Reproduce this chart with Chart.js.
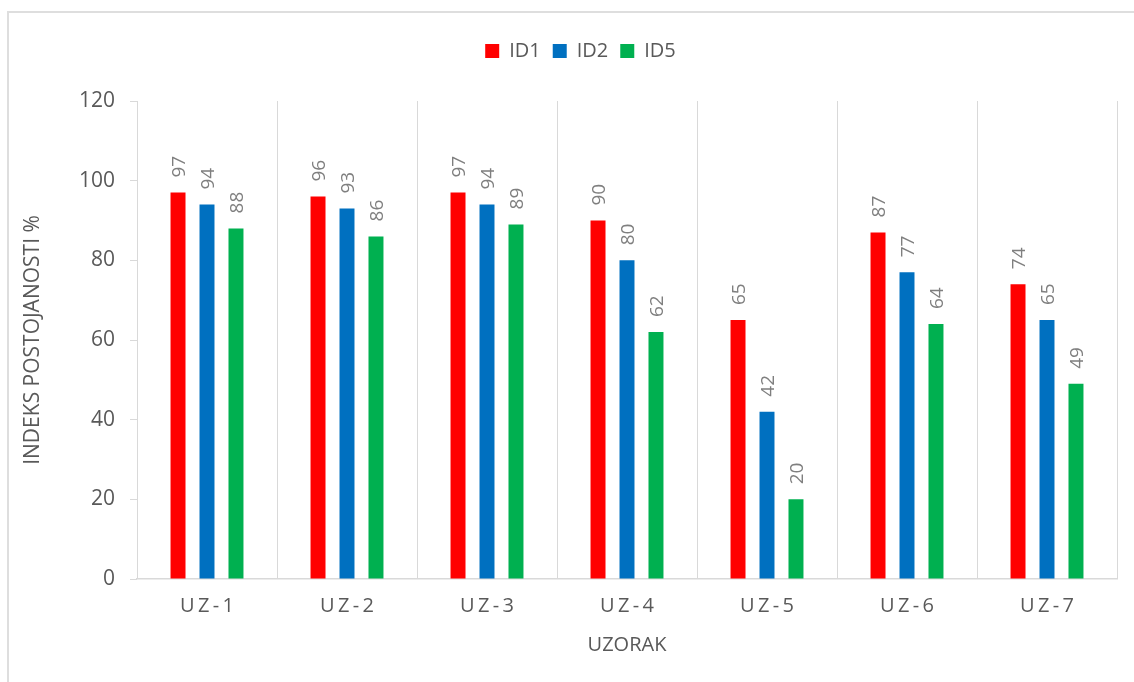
<!DOCTYPE html>
<html>
<head>
<meta charset="utf-8">
<script src="https://cdn.jsdelivr.net/npm/chart.js@4/dist/chart.umd.min.js"></script>
<style>
  html, body { margin: 0; padding: 0; background: #fff; overflow: hidden; }
  #frame {
    position: absolute; left: 7px; top: 11px;
    width: 1140px; height: 700px;
    border: 2px solid #dedede; box-sizing: border-box;
  }
  #wrap { position: absolute; left: 0; top: 0; width: 1134px; height: 682px; }
</style>
</head>
<body>
<div id="frame"></div>
<div id="wrap"><canvas id="chart" width="1134" height="682"></canvas></div>
<script>
// Data
const categories = ["UZ-1", "UZ-2", "UZ-3", "UZ-4", "UZ-5", "UZ-6", "UZ-7"];
const seriesNames = ["ID1", "ID2", "ID5"];
const id1Values = [97, 96, 97, 90, 65, 87, 74];
const id2Values = [94, 93, 94, 80, 42, 77, 65];
const id5Values = [88, 86, 89, 62, 20, 64, 49];
const yTicks = [0, 20, 40, 60, 80, 100, 120];

const colors = ["#FF0000", "#0070C0", "#00B050"];
const fontFamily = "'Open Sans', 'Noto Sans', sans-serif";
const textGray = "#595959";
const gridGray = "#d9d9d9";

// Fix the legend box height so the plot area starts where the reference does,
// and nudge it right to sit where the reference legend sits
const legendPlacement = {
  id: "legendPlacement",
  afterInit(chart) {
    const legend = chart.legend;
    if (!legend) return;
    const origFit = legend.fit.bind(legend);
    legend.fit = function () {
      origFit();
      this.height = 101 - 29;
    };
  },
  afterLayout(chart) {
    const legend = chart.legend;
    if (!legend) return;
    legend.left += 22;
    legend.right += 22;
  }
};

// Rotated value labels above each bar
const valueLabels = {
  id: "valueLabels",
  afterDatasetsDraw(chart) {
    const ctx = chart.ctx;
    ctx.save();
    ctx.font = "19px " + fontFamily;
    ctx.fillStyle = "#7f7f7f";
    ctx.textAlign = "left";
    ctx.textBaseline = "alphabetic";
    chart.data.datasets.forEach((ds, i) => {
      const meta = chart.getDatasetMeta(i);
      meta.data.forEach((bar, j) => {
        ctx.save();
        ctx.translate(bar.x + 7, bar.y - 15);
        ctx.rotate(-Math.PI / 2);
        ctx.fillText(String(ds.data[j]), 0, 0);
        ctx.restore();
      });
    });
    ctx.restore();
  }
};

const seriesValues = [id1Values, id2Values, id5Values];

new Chart(document.getElementById("chart"), {
  type: "bar",
  data: {
    labels: categories,
    datasets: seriesNames.map((name, i) => ({
      label: name,
      data: seriesValues[i],
      backgroundColor: colors[i],
      borderWidth: 0,
      categoryPercentage: 0.621,
      barPercentage: 0.517
    }))
  },
  options: {
    responsive: false,
    animation: false,
    layout: { padding: { top: 29, left: 0, right: 17, bottom: 0 } },
    plugins: {
      legend: {
        position: "top",
        labels: {
          boxWidth: 14,
          boxHeight: 14,
          padding: 12,
          color: textGray,
          font: { family: fontFamily, size: 20 }
        }
      },
      tooltip: { enabled: false }
    },
    scales: {
      x: {
        grid: {
          offset: true,
          color: gridGray,
          lineWidth: 1,
          drawTicks: false
        },
        border: { display: true, color: gridGray, width: 1.5 },
        ticks: {
          color: textGray,
          padding: 15,
          font: { family: fontFamily, size: 20 },
          callback: function (value) {
            return this.getLabelForValue(value).split("").join("\u2009");
          }
        },
        title: {
          display: true,
          text: "UZORAK",
          color: textGray,
          font: { family: fontFamily, size: 20 },
          padding: { top: 4, bottom: 25 }
        },
        afterFit(scale) { scale.height = 682 - 579; }
      },
      y: {
        min: 0,
        max: 120,
        afterBuildTicks(scale) { scale.ticks = yTicks.map(v => ({ value: v })); },
        grid: {
          drawOnChartArea: false,
          drawTicks: true,
          tickLength: 7,
          color: gridGray
        },
        border: { display: false },
        ticks: {
          color: textGray,
          padding: 15,
          font: { family: fontFamily, size: 21 }
        },
        title: {
          display: true,
          text: "INDEKS POSTOJANOSTI %",
          color: textGray,
          font: { family: fontFamily, size: 21 },
          padding: { top: 20, bottom: 0 }
        },
        afterFit(scale) { scale.width = 137; }
      }
    }
  },
  plugins: [legendPlacement, valueLabels]
});
</script>
</body>
</html>
